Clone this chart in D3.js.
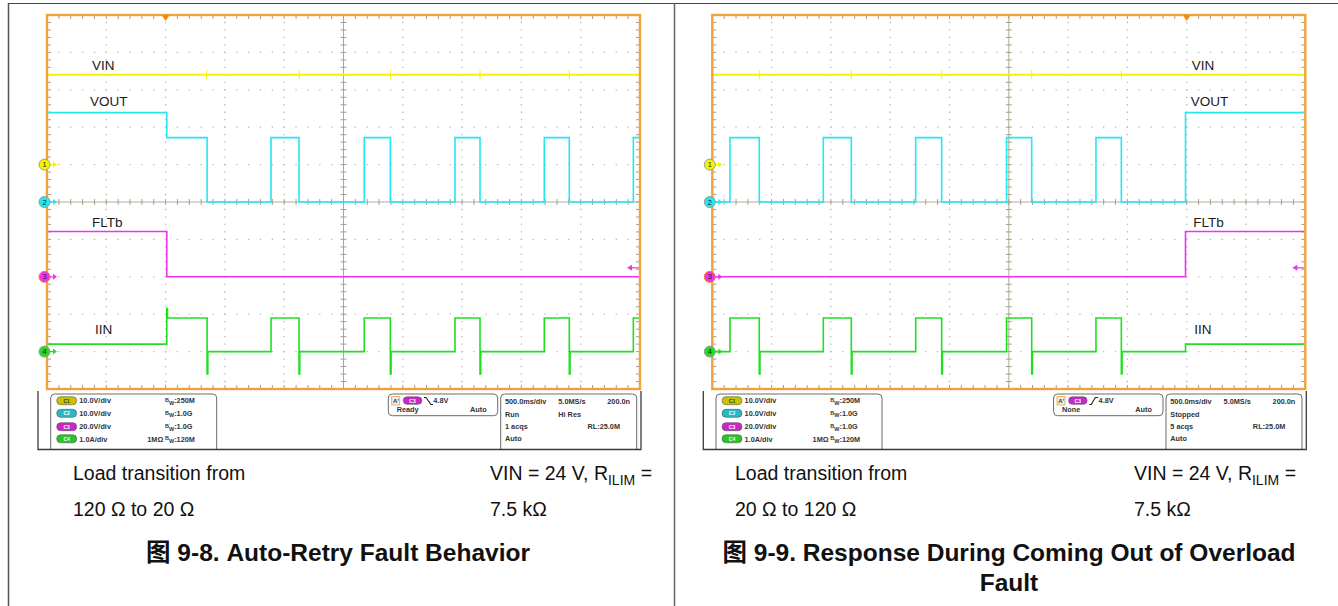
<!DOCTYPE html>
<html><head><meta charset="utf-8">
<script src="https://cdn.jsdelivr.net/npm/d3@7"></script>
<style>
body{margin:0;background:#fff}
svg{display:block}
text{font-family:"Liberation Sans",Arial,"Noto Sans CJK SC",sans-serif}
</style>
</head><body>
<svg id="c" width="1338" height="606"></svg>
<script>
// ---------------- DATA ----------------
const timeDomain = [0, 5000];            // ms, 500 ms/div, 10 divisions
const channelNames = ["VIN", "VOUT", "FLTb", "IIN"];
const channelIds = ["C1", "C2", "C3", "C4"];
const voltsPerDiv = [10, 10, 20, 1];     // V/div (A/div for IIN)
const groundDiv = [1, 0, -2, -4];        // ground marker position (div from centre)
const channelColors = ["#f4f400", "#22e8f2", "#f032f0", "#1ee01e"];
const badgeColors = ["#c8c400", "#28b8c4", "#c828c8", "#28c428"];
const channelSettings = ["10.0V/div", "10.0V/div", "20.0V/div", "1.0A/div"];
const bandwidths = ["250M", "1.0G", "1.0G", "120M"];

// Fig 9-8 (left)  [time ms, value]
const leftVin = [[0, 24], [5000, 24]];
const leftVinGlitch = [1346, 2127, 2895, 3651, 4404];
const leftVout = [[0, 23.9], [1010, 17.2], [1350, 0], [1889, 17.2], [2125, 0], [2675, 17.2], [2895, 0],
  [3440, 17.2], [3651, 0], [4193, 17.2], [4404, 0], [4944, 17.2], [5000, 17.2]];
const leftFlt = [[0, 24.2], [1010, 0], [5000, 0]];
const leftIin = [[0, 0.2], [1010, 1.15], [1016, 0.9], [1350, -0.6], [1356, 0], [1889, 0.9], [2125, -0.6], [2131, 0],
  [2675, 0.9], [2895, -0.6], [2901, 0], [3440, 0.9], [3651, -0.6], [3657, 0], [4193, 0.9], [4404, -0.6], [4410, 0],
  [4944, 0.9], [5000, 0.9]];
const leftLabelT = [379, 363, 379, 405];

// Fig 9-9 (right)
const rightVin = [[0, 24], [5000, 24]];
const rightVinGlitch = [396, 1172, 1934, 2693, 3449];
const rightVout = [[0, 0], [149, 17.2], [396, 0], [936, 17.2], [1172, 0], [1715, 17.2], [1934, 0], [2481, 17.2],
  [2693, 0], [3235, 17.2], [3449, 0], [3990, 23.9], [5000, 23.9]];
const rightFlt = [[0, 0], [3990, 24.2], [5000, 24.2]];
const rightIin = [[0, 0], [149, 0.9], [396, -0.6], [402, 0], [936, 0.9], [1172, -0.6], [1178, 0], [1715, 0.9],
  [1934, -0.6], [1940, 0], [2481, 0.9], [2693, -0.6], [2699, 0], [3235, 0.9], [3449, -0.6], [3455, 0],
  [3990, 0.2], [5000, 0.2]];
const rightLabelT = [4042, 4034, 4056, 4063];

const labelDiv = [3.53, 2.57, -0.66, -3.52];   // label baseline (div)
const triggerLevel = 4.8;                         // V on C3

const leftStatus = {trigState: "Ready", slope: "fall", row2: ["Run", "Hi Res"], acqs: "1 acqs", trigT: 1000};
const rightStatus = {trigState: "None", slope: "rise", row2: ["Stopped", ""], acqs: "5 acqs", trigT: 4000};

const leftCaption = ["Load transition from", "120 Ω to 20 Ω"];
const rightCaption = ["Load transition from", "20 Ω to 120 Ω"];
const leftTitle = ["图 9-8. Auto-Retry Fault Behavior"];
const rightTitle = ["图 9-9. Response During Coming Out of Overload", "Fault"];

// ---------------- DRAW ----------------
const svg = d3.select("#c");
svg.append("rect").attr("width", 1338).attr("height", 606).attr("fill", "#fff");

svg.append("line").attr("x1", 8).attr("x2", 1338).attr("y1", 3.5).attr("y2", 3.5).attr("stroke", "#444").attr("stroke-width", 1.2);
svg.append("line").attr("x1", 8.5).attr("x2", 8.5).attr("y1", 3).attr("y2", 606).attr("stroke", "#555").attr("stroke-width", 1.5);
svg.append("line").attr("x1", 674.5).attr("x2", 674.5).attr("y1", 3).attr("y2", 606).attr("stroke", "#666").attr("stroke-width", 1.5);

function panel(x0, series, glitches, labelT, st, idx) {
  const W = 593, H = 374, y0 = 15;
  const g = svg.append("g");
  const x = d3.scaleLinear().domain(timeDomain).range([x0, x0 + W]);
  const yd = d3.scaleLinear().domain([5, -5]).range([y0, y0 + H]);
  const minorX = W / 50, minorY = H / 50;

  for (let i = 1; i < 10; i++) {
    if (i === 5) continue;
    g.append("line").attr("x1", x(i * 500)).attr("x2", x(i * 500)).attr("y1", y0).attr("y2", y0 + H)
      .attr("stroke", "#b8b8b8").attr("stroke-width", 1.3).attr("stroke-dasharray", `1.3 ${minorY - 1.3}`)
      .attr("stroke-dashoffset", -minorY + 0.65);
    g.append("line").attr("y1", yd(5 - i)).attr("y2", yd(5 - i)).attr("x1", x0).attr("x2", x0 + W)
      .attr("stroke", "#b8b8b8").attr("stroke-width", 1.3).attr("stroke-dasharray", `1.3 ${minorX - 1.3}`)
      .attr("stroke-dashoffset", -minorX + 0.65);
  }
  const cx = x(2500), cy = yd(0);
  g.append("line").attr("x1", cx).attr("x2", cx).attr("y1", y0).attr("y2", y0 + H).attr("stroke", "#b3a999").attr("stroke-width", 1);
  g.append("line").attr("y1", cy).attr("y2", cy).attr("x1", x0).attr("x2", x0 + W).attr("stroke", "#b3a999").attr("stroke-width", 1);
  const tk = g.append("g").attr("stroke", "#a89e8e").attr("stroke-width", 1);
  for (let k = 1; k < 50; k++) {
    const xx = x0 + k * minorX, yy = y0 + k * minorY;
    tk.append("line").attr("x1", xx).attr("x2", xx).attr("y1", cy - 3).attr("y2", cy + 3);
    tk.append("line").attr("y1", yy).attr("y2", yy).attr("x1", cx - 3).attr("x2", cx + 3);
    tk.append("line").attr("x1", xx).attr("x2", xx).attr("y1", y0).attr("y2", y0 + 4);
    tk.append("line").attr("x1", xx).attr("x2", xx).attr("y1", y0 + H - 4).attr("y2", y0 + H);
    tk.append("line").attr("y1", yy).attr("y2", yy).attr("x1", x0).attr("x2", x0 + 4);
    tk.append("line").attr("y1", yy).attr("y2", yy).attr("x1", x0 + W - 4).attr("x2", x0 + W);
  }

  const wave = (ch) => d3.line().curve(d3.curveStepAfter)
    .x(d => x(d[0])).y(d => yd(groundDiv[ch] + d[1] / voltsPerDiv[ch]));
  glitches.forEach(t => {
    g.append("line").attr("x1", x(t)).attr("x2", x(t))
      .attr("y1", yd(groundDiv[0] + 25.2 / voltsPerDiv[0])).attr("y2", yd(groundDiv[0] + 22.8 / voltsPerDiv[0]))
      .attr("stroke", channelColors[0]).attr("stroke-width", 1);
  });
  [3, 2, 1, 0].forEach(ch => {
    g.append("path").datum(series[ch]).attr("d", wave(ch)).attr("fill", "none")
      .attr("stroke", channelColors[ch]).attr("stroke-width", ch === 0 ? 2 : 1.6);
  });

  const ty = yd(groundDiv[2] + triggerLevel / voltsPerDiv[2]);
  g.append("line").attr("x1", x0 + W - 10).attr("x2", x0 + W).attr("y1", ty).attr("y2", ty).attr("stroke", channelColors[2]).attr("stroke-width", 1.2);
  g.append("path").attr("d", `M${x0 + W - 13},${ty}l5,-3v6z`).attr("fill", channelColors[2]);

  g.append("rect").attr("x", x0).attr("y", y0).attr("width", W).attr("height", H)
    .attr("fill", "none").attr("stroke", "#f2a23c").attr("stroke-width", 2.4);
  g.append("path").attr("d", `M${x(st.trigT) - 4},${y0}h8l-4,6z`).attr("fill", "#f08a10");

  for (let ch = 0; ch < 4; ch++) {
    const my = yd(groundDiv[ch]);
    g.append("line").attr("x1", x0 + 1).attr("x2", x0 + 8).attr("y1", my).attr("y2", my).attr("stroke", channelColors[ch]).attr("stroke-width", 1.2);
    g.append("path").attr("d", `M${x0 + 10},${my}l-4,-3v6z`).attr("fill", channelColors[ch]);
    g.append("circle").attr("cx", x0 - 2.5).attr("cy", my).attr("r", 5.5)
      .attr("fill", channelColors[ch]).attr("stroke", ch === 2 ? "#f08020" : "#9a9a9a").attr("stroke-width", 1);
    g.append("text").attr("x", x0 - 2.5).attr("y", my + 2.6).attr("text-anchor", "middle")
      .attr("font-size", 7.5).attr("fill", "#222").text(ch + 1);
  }

  for (let ch = 0; ch < 4; ch++) {
    g.append("text").attr("x", x(labelT[ch])).attr("y", yd(labelDiv[ch]))
      .attr("font-size", 13.5).attr("fill", "#1a1a1a").text(channelNames[ch]);
  }

  // ---------- status bar ----------
  const sb = g.append("g").attr("font-weight", "bold").attr("font-size", 7.3).attr("fill", "#333");
  const clipId = "clip" + idx;
  svg.append("clipPath").attr("id", clipId).append("rect").attr("x", x0 - 10).attr("y", 390).attr("width", W + 20).attr("height", 59.5);
  const sbc = sb.append("g").attr("clip-path", `url(#${clipId})`);
  sbc.append("rect").attr("x", x0 + 3.7).attr("y", 394).attr("width", 166).attr("height", 70).attr("rx", 4)
    .attr("fill", "#fff").attr("stroke", "#6a6a6a").attr("stroke-width", 1);
  sbc.append("rect").attr("x", x0 + 453.7).attr("y", 394).attr("width", 136).attr("height", 70).attr("rx", 4)
    .attr("fill", "#fff").attr("stroke", "#6a6a6a").attr("stroke-width", 1);
  sb.append("rect").attr("x", x0 + 341.3).attr("y", 394).attr("width", 109.4).attr("height", 21.7).attr("rx", 4)
    .attr("fill", "#fff").attr("stroke", "#6a6a6a").attr("stroke-width", 1);
  g.append("path").attr("d", `M${x0 - 9},391V449.5H${x0 + 594}V391`).attr("fill", "none").attr("stroke", "#3a3a3a").attr("stroke-width", 1.3);

  const rowY = [400.7, 413.3, 426.7, 438.8];
  for (let ch = 0; ch < 4; ch++) {
    const ry = rowY[ch];
    sb.append("rect").attr("x", x0 + 9.7).attr("y", ry - 4).attr("width", 20).attr("height", 8).attr("rx", 4)
      .attr("fill", badgeColors[ch]).attr("stroke", "#555").attr("stroke-width", 0.6);
    sb.append("text").attr("x", x0 + 19.7).attr("y", ry + 1.8).attr("text-anchor", "middle").attr("font-size", 5)
      .attr("fill", ch === 0 ? "#333" : "#fff").text(channelIds[ch]);
    sb.append("text").attr("x", x0 + 32.3).attr("y", ry + 2.7).text(channelSettings[ch]);
    const bw = sb.append("text").attr("x", x0 + 118).attr("y", ry + 2.7);
    bw.append("tspan").attr("font-size", 5.5).attr("dy", -1.2).text("B");
    bw.append("tspan").attr("font-size", 5.5).attr("dy", 2.4).text("W");
    bw.append("tspan").attr("dy", -1.2).text(":" + bandwidths[ch]);
    if (ch === 3) sb.append("text").attr("x", x0 + 100.3).attr("y", ry + 2.7).text("1MΩ");
  }
  sb.append("rect").attr("x", x0 + 344.7).attr("y", 396.5).attr("width", 8).attr("height", 8.5)
    .attr("fill", "#eee").attr("stroke", "#f0a040").attr("stroke-width", 0.8);
  sb.append("text").attr("x", x0 + 346).attr("y", 403).attr("font-size", 6).text("A'");
  sb.append("rect").attr("x", x0 + 356.3).attr("y", 396.8).attr("width", 18.5).attr("height", 7.5).attr("rx", 3.7)
    .attr("fill", badgeColors[2]).attr("stroke", "#555").attr("stroke-width", 0.6);
  sb.append("text").attr("x", x0 + 365.5).attr("y", 402.6).attr("text-anchor", "middle").attr("font-size", 5).attr("fill", "#fff").text("C3");
  const sl = st.slope === "fall"
    ? `M${x0 + 377},397.5h2l5,7h2` : `M${x0 + 377},404.5h2l4,-7h3`;
  sb.append("path").attr("d", sl).attr("fill", "none").attr("stroke", "#222").attr("stroke-width", 1.1);
  sb.append("text").attr("x", x0 + 386.3).attr("y", 403.3).text(triggerLevel + "V");
  sb.append("text").attr("x", x0 + 349.7).attr("y", 412.3).text(st.trigState);
  sb.append("text").attr("x", x0 + 423).attr("y", 412.3).text("Auto");
  const tb = [[["500.0ms/div", 458, "start"], ["5.0MS/s", 511.3, "start"], ["200.0n", 583, "end"]],
    [[st.row2[0], 458, "start"], [st.row2[1], 511.3, "start"]],
    [[st.acqs, 458, "start"], ["RL:25.0M", 573, "end"]],
    [["Auto", 458, "start"]]];
  const tbY = [404, 416.6, 429, 441.2];
  tb.forEach((row, r) => row.forEach(c => {
    sb.append("text").attr("x", x0 + c[1]).attr("y", tbY[r]).attr("text-anchor", c[2]).text(c[0]);
  }));
}

panel(47, [leftVin, leftVout, leftFlt, leftIin], leftVinGlitch, leftLabelT, leftStatus, 0);
panel(712.3, [rightVin, rightVout, rightFlt, rightIin], rightVinGlitch, rightLabelT, rightStatus, 1);

// ---------- captions ----------
function caption(xL, xR, lines, cx, title) {
  const c = svg.append("g").attr("fill", "#111").attr("font-size", 19.5);
  c.append("text").attr("x", xL).attr("y", 480).text(lines[0]);
  c.append("text").attr("x", xL).attr("y", 516).text(lines[1]);
  const t = c.append("text").attr("x", xR).attr("y", 480);
  t.append("tspan").text("VIN = 24 V, R");
  t.append("tspan").attr("font-size", 14).attr("dy", 5).text("ILIM");
  t.append("tspan").attr("dy", -5).text(" =");
  c.append("text").attr("x", xR).attr("y", 516).text("7.5 kΩ");
  title.forEach((s, i) => {
    c.append("text").attr("x", cx).attr("y", 561 + i * 30).attr("text-anchor", "middle")
      .attr("font-weight", "bold").attr("font-size", 24.5).text(s);
  });
}
caption(73, 490, leftCaption, 338, leftTitle);
caption(735, 1134, rightCaption, 1009, rightTitle);
</script>
</body></html>
